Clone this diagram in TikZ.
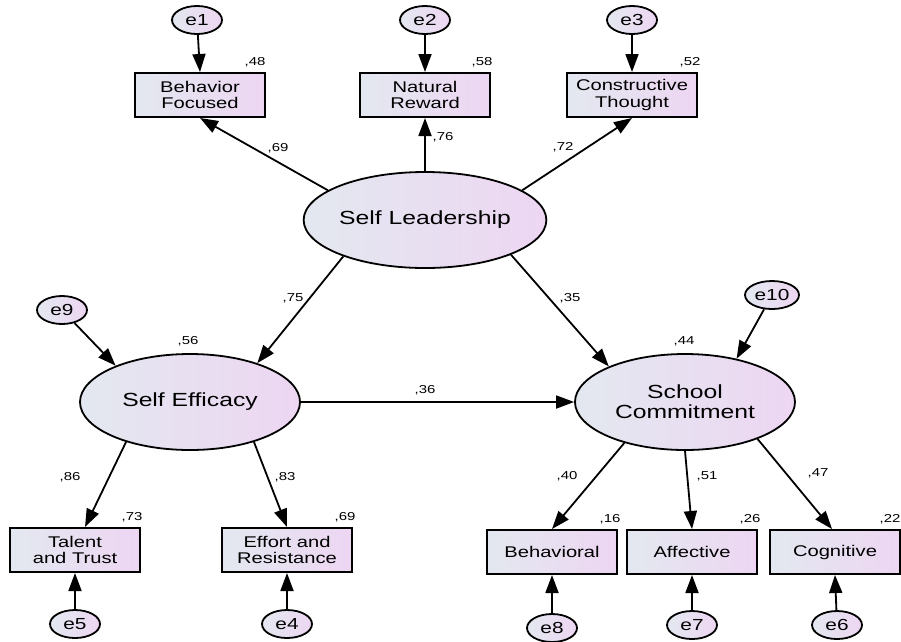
\documentclass[tikz,border=0pt]{standalone}
\usepackage{fontspec}
\setmainfont[FakeStretch=1.3]{Liberation Sans}
\usetikzlibrary{arrows.meta}
\usetikzlibrary{shapes.geometric}

\definecolor{shadeleft}{HTML}{E3E8F0}
\definecolor{shaderight}{HTML}{EDD6F2}

\begin{document}
\begin{tikzpicture}[x=1pt, y=-1pt,
    latent/.style={ellipse, draw, line width=1.8pt, left color=shadeleft, right color=shaderight,
      minimum width=220pt, minimum height=96pt, inner sep=0pt, align=center,
      font=\fontsize{19}{20}\selectfont},
    obs/.style={rectangle, draw, line width=2pt, left color=shadeleft, right color=shaderight,
      minimum width=130pt, minimum height=44pt, inner sep=0pt, align=center,
      font=\fontsize{15.5}{16.5}\selectfont},
    err/.style={ellipse, draw, line width=1.8pt, left color=shadeleft, right color=shaderight,
      minimum width=50pt, minimum height=28pt, inner sep=0pt,
      font=\fontsize{16}{16}\selectfont},
    path/.style={line width=1.8pt, -{Triangle[length=18pt, width=13pt]}},
    coef/.style={font=\fontsize{11.5}{12}\selectfont}]
    \useasboundingbox (0,0) rectangle (901,641);
    % latent variables
    \node[latent] (SL) at (425,220) {Self Leadership};
    \node[latent] (SE) at (190,402) {Self Efficacy};
    \node[latent] (SC) at (685,402) {School\\Commitment};
    % observed variables
    \node[obs] (BF) at (200,95) {Behavior\\Focused};
    \node[obs] (NR) at (425,95) {Natural\\Reward};
    \node[obs] (CT) at (632,95) {Constructive\\Thought};
    \node[obs] (TT) at (75,550) {Talent\\and Trust};
    \node[obs] (ER) at (287,550) {Effort and\\Resistance};
    \node[obs] (BH) at (552,552) {Behavioral};
    \node[obs] (AF) at (692,552) {Affective};
    \node[obs] (CG) at (835,552) {Cognitive};
    % error terms
    \node[err] (e1) at (197,20) {e1};
    \node[err] (e2) at (425,20) {e2};
    \node[err] (e3) at (632,20) {e3};
    \node[err] (e9) at (62,310) {e9};
    \node[err, minimum width=54pt] (e10) at (772,295) {e10};
    \node[err] (e5) at (75,624) {e5};
    \node[err] (e4) at (287,624) {e4};
    \node[err] (e8) at (552,628) {e8};
    \node[err] (e7) at (692,625) {e7};
    \node[err] (e6) at (837,625) {e6};
    % paths
    \draw[path] (SL.163) -- (BF.south);
    \draw[path] (SL.north) -- (NR.south);
    \draw[path] (SL.17) -- (CT.south);
    \draw[path] (SL.204) -- (SE.30);
    \draw[path] (SL.-22) -- (SC.155);
    \draw[path] (SE.east) -- (SC.west);
    \draw[path] (SE.212) -- ([xshift=10pt]TT.north);
    \draw[path] (SE.-32) -- (ER.north);
    \draw[path] (SC.214) -- (BH.north);
    \draw[path] (SC.south) -- (AF.north);
    \draw[path] (SC.-27) -- ([xshift=-3pt]CG.north);
    \draw[path] (e1) -- (BF.north);
    \draw[path] (e2) -- (NR.north);
    \draw[path] (e3) -- (CT.north);
    \draw[path] (e9) -- (SE.154);
    \draw[path] (e10) -- (SC.40);
    \draw[path] (e5) -- (TT.south);
    \draw[path] (e4) -- (ER.south);
    \draw[path] (e8) -- (BH.south);
    \draw[path] (e7) -- (AF.south);
    \draw[path] (e6) -- (CG.south);
    % squared multiple correlations
    \node[coef] (rBF) at (255,62) {,48};
    \node[coef] (rNR) at (482,62) {,58};
    \node[coef] (rCT) at (690,62) {,52};
    \node[coef] (rSE) at (188,341) {,56};
    \node[coef] (rSC) at (684,341) {,44};
    \node[coef] (rTT) at (132,517) {,73};
    \node[coef] (rER) at (345,517) {,69};
    \node[coef] (rBH) at (610,519) {,16};
    \node[coef] (rAF) at (750,519) {,26};
    \node[coef] (rCG) at (890,519) {,22};
    % path coefficients
    \node[coef] (pSLBF) at (278,148) {,69};
    \node[coef] (pSLNR) at (443,137) {,76};
    \node[coef] (pSLCT) at (563,147) {,72};
    \node[coef] (pSLSE) at (293,298) {,75};
    \node[coef] (pSLSC) at (570,298) {,35};
    \node[coef] (pSESC) at (425,390) {,36};
    \node[coef] (pSETT) at (70,477) {,86};
    \node[coef] (pSEER) at (285,477) {,83};
    \node[coef] (pSCBH) at (567,476) {,40};
    \node[coef] (pSCAF) at (707,476) {,51};
    \node[coef] (pSCCG) at (818,473) {,47};
\end{tikzpicture}
\end{document}
